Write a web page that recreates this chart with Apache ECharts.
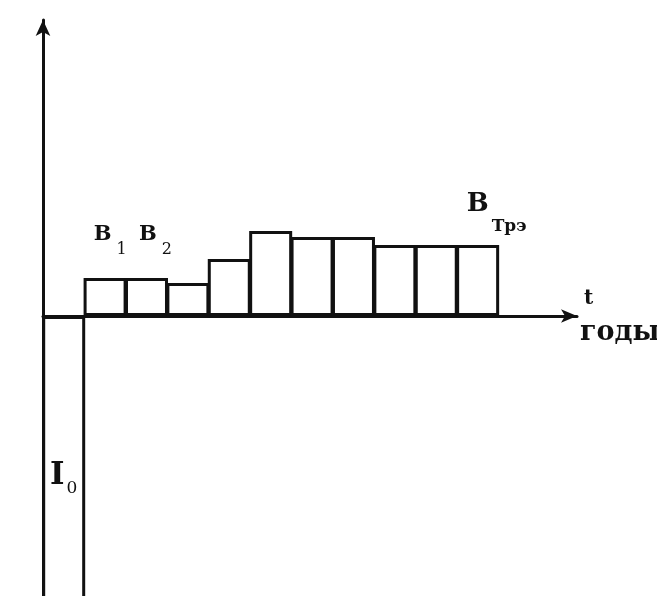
<!DOCTYPE html>
<html>
<head>
<meta charset="utf-8">
<script src="https://cdn.jsdelivr.net/npm/echarts@6/dist/echarts.min.js"></script>
<style>
  html, body { margin: 0; padding: 0; background: #fff; overflow: hidden; }
  /* столбец I0 уходит за нижний край, поэтому холст чуть выше окна */
  #main { width: 657px; height: 616px; }
</style>
</head>
<body>
<div id="main"></div>
<script>
// годы: середина каждого периода
var periods = [0.5, 1.5, 2.5, 3.5, 4.5, 5.5, 6.5, 7.5, 8.5, 9.5, 10.5];
// I0 — вложение (уходит вниз за край), дальше — поступления B1..BТрэ
var flows = [-290, 38, 38, 33, 57, 85, 79, 79, 71, 71, 71];
// подписи над столбцами: индекс -> [буква, индекс]
var barLabels = { 1: ['B', '1'], 2: ['B', '2'], 10: ['B', 'Трэ'] };

var ink = '#111';
var serif = 'DejaVu Serif';

var myChart = echarts.init(document.getElementById('main'));

var data = [];
for (var i = 0; i < periods.length; i++) {
    var item = { value: [periods[i], flows[i]] };
    if (barLabels[i]) {
        var big = i == 10;
        item.label = {
            show: true,
            position: 'top',
            distance: big ? 10 : 20,
            offset: big ? [19, 0] : (i == 2 ? [9, 0] : [5, 0]),
            formatter: '{b|' + barLabels[i][0] + '}{s|' + barLabels[i][1] + '}',
            rich: {
                b: { fontFamily: serif, fontWeight: 'bold', fontSize: big ? 26 : 21, color: ink, verticalAlign: 'top' },
                s: { fontFamily: serif, fontWeight: big ? 'bold' : 'normal', fontSize: big ? 17 : 16, color: ink, verticalAlign: 'top',
                     padding: [big ? 27 : 18, 0, 0, big ? 3 : 5] }
            }
        };
    }
    data.push(item);
}

var option = {
    backgroundColor: '#fff',
    animation: false,
    grid: { left: 43, right: 80, top: 20, bottom: 0 },
    xAxis: {
        type: 'value',
        min: 0,
        max: 12.9,
        axisLine: { show: true, onZero: true, symbol: ['none', 'arrow'], symbolSize: [10, 16],
                    lineStyle: { color: ink, width: 3 } },
        axisTick: { show: false },
        axisLabel: { show: false },
        splitLine: { show: false }
    },
    yAxis: {
        type: 'value',
        min: -300,
        max: 296,
        axisLine: { show: true, symbol: ['none', 'arrow'], symbolSize: [11, 16],
                    lineStyle: { color: ink, width: 3 } },
        axisTick: { show: false },
        axisLabel: { show: false },
        splitLine: { show: false }
    },
    series: [{
        type: 'bar',
        barWidth: 43,
        clip: true,
        itemStyle: { color: '#fff', borderColor: ink, borderWidth: 3 },
        data: data
    }],
    graphic: [
        { type: 'text', left: 50, top: 460, z: 100,
          style: { text: '{i|I}{z|0}', fill: ink,
                   rich: { i: { fontFamily: serif, fontWeight: 'bold', fontSize: 31, verticalAlign: 'top' },
                           z: { fontFamily: serif, fontSize: 17, verticalAlign: 'top', padding: [20, 0, 0, 2] } } } },
        { type: 'text', left: 584, top: 289, z: 100,
          style: { text: 't', fill: ink, font: 'bold 20px "DejaVu Serif"' } },
        { type: 'text', left: 580, top: 319, z: 100,
          style: { text: 'годы', fill: ink, font: 'bold 27px "DejaVu Serif"' } }
    ]
};
myChart.setOption(option);
</script>
</body>
</html>
